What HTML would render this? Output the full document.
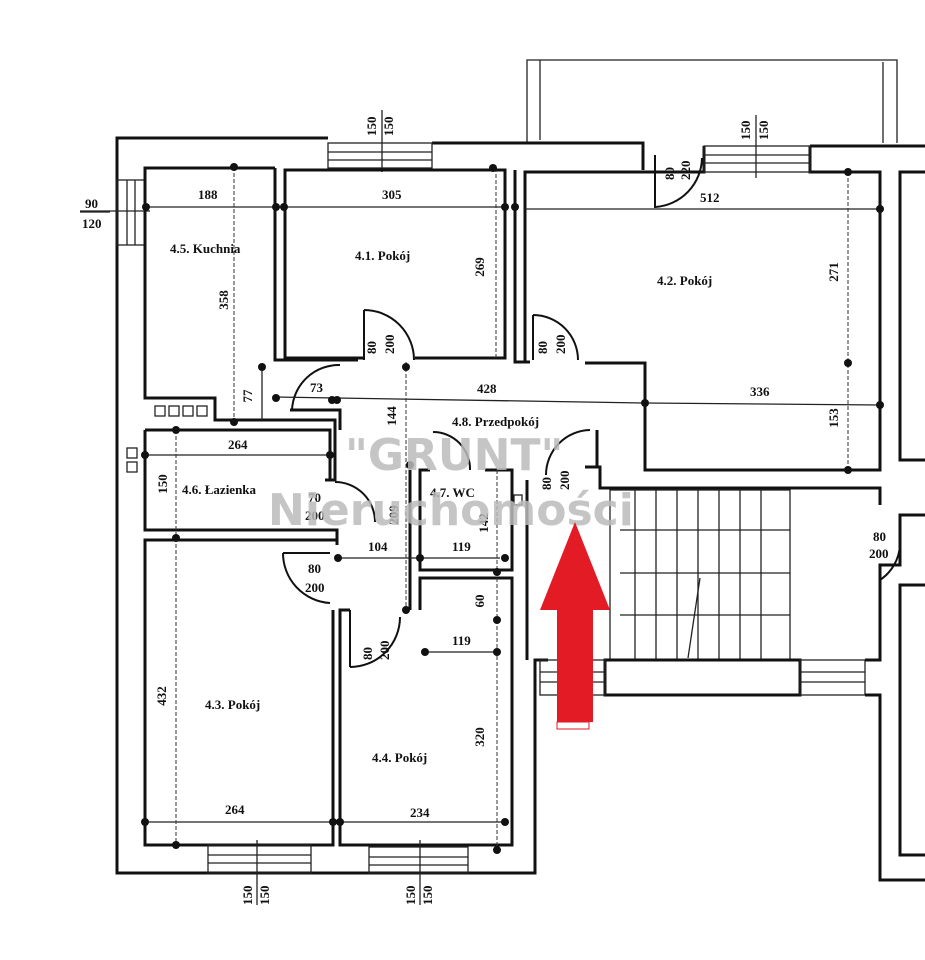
<!DOCTYPE html>
<html><head><meta charset="utf-8"><style>
html,body{margin:0;padding:0;background:#fff;}
svg{display:block}
.w{fill:none;stroke:#111;stroke-width:3}
.t{fill:none;stroke:#222;stroke-width:1.3}
.d{fill:none;stroke:#333;stroke-width:1;stroke-dasharray:4 2}
.a{fill:none;stroke:#111;stroke-width:2}
text{font-family:"Liberation Serif",serif;font-weight:bold;font-size:13px;fill:#111}
.wm{font-family:"DejaVu Sans","Liberation Sans",sans-serif;font-weight:bold;font-size:44px;fill:#bbb;opacity:.85}
</style></head><body>
<svg width="925" height="960" viewBox="0 0 925 960" xmlns="http://www.w3.org/2000/svg">
<polyline class="t" points="527,143 527,60 897,60 897,143"/>
<line class="t" x1="540" y1="60" x2="540" y2="140"/>
<line class="t" x1="883" y1="62" x2="883" y2="143"/>
<polyline class="w" points="328,138 117,138 117,873 535,873 535,660 548,660"/>
<polyline class="w" points="432,143 643,143 643,170"/>
<polyline class="w" points="704,146 704,172 525,172 525,362"/>
<polyline class="w" points="810,146 925,146"/>
<polyline class="w" points="810,146 810,172 880,172 880,470 645,470 645,363 585,363"/>
<rect class="t" x="328" y="143" width="104" height="25"/>
<line class="t" x1="328" y1="152" x2="432" y2="152"/><line class="t" x1="328" y1="160" x2="432" y2="160"/>
<rect class="t" x="704" y="146" width="106" height="26"/>
<line class="t" x1="704" y1="155" x2="810" y2="155"/><line class="t" x1="704" y1="163" x2="810" y2="163"/>
<line class="t" x1="382" y1="110" x2="382" y2="172"/><line class="t" x1="756" y1="115" x2="756" y2="178"/>
<rect class="t" x="117" y="180" width="28" height="65"/>
<line class="t" x1="127" y1="180" x2="127" y2="245"/><line class="t" x1="135" y1="180" x2="135" y2="245"/>
<line class="t" x1="80" y1="211" x2="150" y2="211"/>
<polyline class="w" points="275,168 145,168 145,398 215,398 215,420 335,420 335,480 325,480"/>
<polyline class="w" points="275,168 275,360 358,360"/>
<polyline class="w" points="364,358 285,358 285,170 505,170 505,358 415,358"/>
<polyline class="w" points="515,170 515,362 530,362"/>
<polyline class="w" points="290,410 340,410 340,430"/>
<polyline class="w" points="585,467 600,467 600,488 880,488 880,505"/>
<polyline class="w" points="597,430 597,467"/>
<polyline class="w" points="527,480 527,660"/>
<polyline class="w" points="145,430 330,430 330,480"/>
<polyline class="w" points="145,430 145,530 337,530 337,545"/>
<polyline class="w" points="337,540 145,540 145,845 333,845 333,610"/>
<polyline class="w" points="350,610 340,610 340,845 512,845 512,578 420,578 420,610"/>
<polyline class="w" points="430,470 420,470 420,570 512,570 512,470 485,470"/>
<line class="w" x1="410" y1="470" x2="410" y2="610"/>
<rect class="t" x="208" y="845" width="103" height="28"/>
<line class="t" x1="208" y1="855" x2="311" y2="855"/><line class="t" x1="208" y1="863" x2="311" y2="863"/>
<rect class="t" x="369" y="847" width="99" height="26"/>
<line class="t" x1="369" y1="857" x2="468" y2="857"/><line class="t" x1="369" y1="865" x2="468" y2="865"/>
<line class="t" x1="257" y1="840" x2="257" y2="905"/><line class="t" x1="420" y1="840" x2="420" y2="905"/>
<rect class="t" x="610" y="490" width="180" height="170"/>
<g class="t">
<line x1="635" y1="490" x2="635" y2="660"/><line x1="656" y1="490" x2="656" y2="660"/><line x1="677" y1="490" x2="677" y2="660"/><line x1="698" y1="490" x2="698" y2="660"/><line x1="719" y1="490" x2="719" y2="660"/><line x1="740" y1="490" x2="740" y2="660"/><line x1="761" y1="490" x2="761" y2="660"/>
<line x1="620" y1="530" x2="790" y2="530"/><line x1="620" y1="573" x2="790" y2="573"/><line x1="620" y1="615" x2="790" y2="615"/>
<line x1="700" y1="578" x2="688" y2="658"/>
</g>
<rect class="w" x="605" y="660" width="195" height="35"/>
<rect class="t" x="540" y="660" width="65" height="35"/>
<line class="t" x1="540" y1="672" x2="605" y2="672"/><line class="t" x1="540" y1="682" x2="605" y2="682"/>
<rect class="t" x="800" y="660" width="65" height="35"/>
<line class="t" x1="800" y1="672" x2="865" y2="672"/><line class="t" x1="800" y1="682" x2="865" y2="682"/>
<polyline class="w" points="925,172 900,172 900,460 925,460"/>
<polyline class="w" points="925,515 900,515 900,565 880,565 880,660 865,660"/>
<polyline class="w" points="865,695 880,695 880,880 925,880"/>
<polyline class="w" points="925,585 900,585 900,855 925,855"/>
<g class="a">
<path d="M364,310 A50,50 0 0 1 414,360 M364,310 L364,360"/>
<path d="M533,315 A45,45 0 0 1 578,360 M533,315 L533,360"/>
<path d="M655,155 L655,207 A50,50 0 0 0 702,158"/>
<path d="M340,365 A47,47 0 0 0 292,410"/>
<path d="M335,482 A40,40 0 0 1 375,522"/>
<path d="M283,553 L330,553 M283,553 A50,50 0 0 0 330,603"/>
<path d="M350,667 L350,610 M350,667 A50,50 0 0 0 400,617"/>
<path d="M433,432 A37,37 0 0 1 470,470"/>
<path d="M590,430 A45,45 0 0 0 546,475"/>
<path d="M900,545 A45,45 0 0 1 880,580"/>
</g>
<g class="t">
<line x1="145" y1="207" x2="505" y2="207"/><line x1="525" y1="209" x2="880" y2="209"/>
<line x1="275" y1="397" x2="645" y2="403"/><line x1="645" y1="403" x2="880" y2="405"/>
<line x1="145" y1="455" x2="330" y2="455"/><line x1="340" y1="558" x2="500" y2="558"/>
<line x1="425" y1="652" x2="500" y2="652"/><line x1="145" y1="822" x2="333" y2="822"/><line x1="340" y1="822" x2="505" y2="822"/>
<line x1="262" y1="365" x2="262" y2="420"/>
</g>
<g class="d">
<line x1="234" y1="167" x2="234" y2="420"/><line x1="496" y1="168" x2="496" y2="358"/>
<line x1="848" y1="172" x2="848" y2="470"/><line x1="406" y1="362" x2="406" y2="610"/>
<line x1="176" y1="430" x2="176" y2="845"/><line x1="497" y1="470" x2="497" y2="850"/>
</g>
<g fill="#111">
<circle cx="146" cy="207" r="4"/><circle cx="276" cy="207" r="4"/><circle cx="284" cy="207" r="4"/><circle cx="505" cy="207" r="4"/><circle cx="515" cy="207" r="4"/><circle cx="880" cy="209" r="4"/>
<circle cx="234" cy="167" r="4"/><circle cx="493" cy="168" r="4"/><circle cx="848" cy="172" r="4"/><circle cx="848" cy="363" r="4"/><circle cx="848" cy="470" r="4"/>
<circle cx="262" cy="367" r="4"/><circle cx="276" cy="398" r="4"/><circle cx="332" cy="400" r="4"/><circle cx="337" cy="400" r="4"/><circle cx="406" cy="367" r="4"/><circle cx="645" cy="403" r="4"/><circle cx="880" cy="405" r="4"/>
<circle cx="234" cy="422" r="4"/><circle cx="176" cy="430" r="4"/><circle cx="145" cy="455" r="4"/><circle cx="330" cy="455" r="4"/><circle cx="176" cy="538" r="4"/>
<circle cx="338" cy="558" r="4"/><circle cx="420" cy="558" r="4"/><circle cx="505" cy="558" r="4"/><circle cx="497" cy="572" r="4"/><circle cx="425" cy="652" r="4"/><circle cx="497" cy="652" r="4"/><circle cx="497" cy="620" r="4"/>
<circle cx="145" cy="822" r="4"/><circle cx="333" cy="822" r="4"/><circle cx="340" cy="822" r="4"/><circle cx="505" cy="822" r="4"/><circle cx="176" cy="845" r="4"/><circle cx="497" cy="850" r="4"/>
<circle cx="406" cy="610" r="4"/><circle cx="410" cy="465" r="4"/>
</g>
<g class="t"><rect x="155" y="406" width="10" height="10"/><rect x="169" y="406" width="10" height="10"/><rect x="183" y="406" width="10" height="10"/><rect x="197" y="406" width="10" height="10"/>
<rect x="127" y="448" width="10" height="10"/><rect x="127" y="462" width="10" height="10"/><rect x="514" y="495" width="8" height="10"/></g>
<text x="198" y="199">188</text><text x="382" y="199">305</text><text x="700" y="202">512</text>
<text x="170" y="253">4.5. Kuchnia</text><text x="355" y="260">4.1. Pokój</text><text x="657" y="285">4.2. Pokój</text>
<text x="310" y="392">73</text><text x="477" y="393">428</text><text x="750" y="396">336</text>
<text x="452" y="426">4.8. Przedpokój</text>
<text x="228" y="449">264</text><text x="182" y="494">4.6. Łazienka</text><text x="430" y="497">4.7. WC</text>
<text x="368" y="551">104</text><text x="452" y="551">119</text><text x="452" y="645">119</text>
<text x="205" y="709">4.3. Pokój</text><text x="372" y="762">4.4. Pokój</text>
<text x="225" y="814">264</text><text x="410" y="817">234</text>
<text x="85" y="208">90</text><text x="82" y="228">120</text>
<text x="308" y="502">70</text><text x="305" y="520">200</text><text x="308" y="573">80</text><text x="305" y="592">200</text>
<text x="873" y="541">80</text><text x="869" y="558">200</text>
<g>
<text transform="translate(228,300) rotate(-90)" text-anchor="middle">358</text>
<text transform="translate(484,267) rotate(-90)" text-anchor="middle">269</text>
<text transform="translate(838,272) rotate(-90)" text-anchor="middle">271</text>
<text transform="translate(838,418) rotate(-90)" text-anchor="middle">153</text>
<text transform="translate(252,396) rotate(-90)" text-anchor="middle">77</text>
<text transform="translate(396,416) rotate(-90)" text-anchor="middle">144</text>
<text transform="translate(167,484) rotate(-90)" text-anchor="middle">150</text>
<text transform="translate(398,515) rotate(-90)" text-anchor="middle">209</text>
<text transform="translate(488,523) rotate(-90)" text-anchor="middle">142</text>
<text transform="translate(484,601) rotate(-90)" text-anchor="middle">60</text>
<text transform="translate(166,696) rotate(-90)" text-anchor="middle">432</text>
<text transform="translate(484,737) rotate(-90)" text-anchor="middle">320</text>
<text transform="translate(376,354) rotate(-90)">80</text><text transform="translate(394,354) rotate(-90)">200</text>
<text transform="translate(547,354) rotate(-90)">80</text><text transform="translate(565,354) rotate(-90)">200</text>
<text transform="translate(674,180) rotate(-90)">80</text><text transform="translate(690,180) rotate(-90)">220</text>
<text transform="translate(551,490) rotate(-90)">80</text><text transform="translate(569,490) rotate(-90)">200</text>
<text transform="translate(372,660) rotate(-90)">80</text><text transform="translate(389,660) rotate(-90)">200</text>
<text transform="translate(376,136) rotate(-90)">150</text><text transform="translate(393,136) rotate(-90)">150</text>
<text transform="translate(750,140) rotate(-90)">150</text><text transform="translate(768,140) rotate(-90)">150</text>
<text transform="translate(252,905) rotate(-90)">150</text><text transform="translate(269,905) rotate(-90)">150</text>
<text transform="translate(415,905) rotate(-90)">150</text><text transform="translate(432,905) rotate(-90)">150</text>
</g>
<line class="t" x1="80" y1="212" x2="110" y2="212"/>
<text class="wm" x="345" y="470">"GRUNT"</text>
<text class="wm" x="268" y="525">Nieruchomości</text>
<polygon points="575,522 540,610 557,610 557,722 593,722 593,610 610,610" fill="#e21b24"/>
<rect x="557" y="722" width="32" height="7" fill="#fff" stroke="#e21b24" stroke-width="1"/>
</svg>
</body></html>
